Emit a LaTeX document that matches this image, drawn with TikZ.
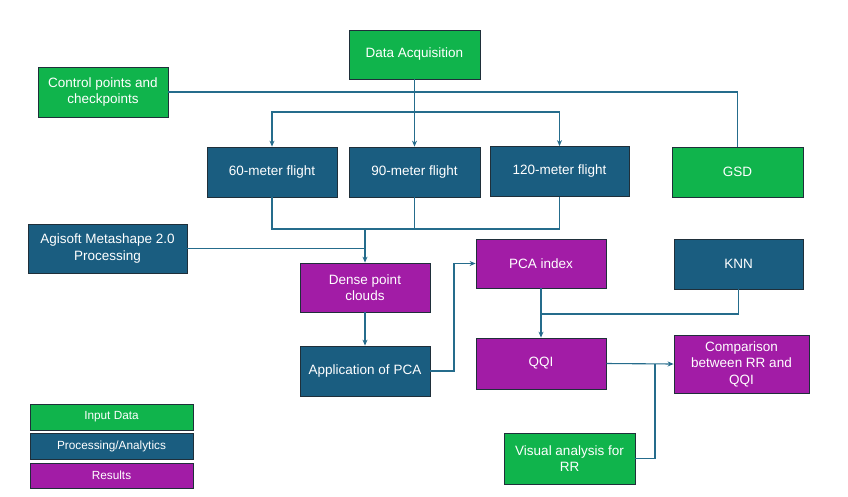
\documentclass[tikz,border=0pt]{standalone}
\usepackage{fontspec}
\setmainfont{Liberation Sans}
\usetikzlibrary{arrows.meta}
\definecolor{cgreen}{HTML}{10B44C}
\definecolor{cblue}{HTML}{1A5D80}
\definecolor{cpurple}{HTML}{A21CA6}
\definecolor{cline}{HTML}{256C8C}
\definecolor{cborder}{HTML}{1F2F3A}
\begin{document}
\begin{tikzpicture}[x=1pt,y=-1pt,
  box/.style={draw=cborder,line width=0.8pt,fill=#1,text=white,inner sep=0pt,align=center,
    font=\fontsize{13.5}{16.5}\selectfont},
  legbox/.style={box=#1,minimum width=163pt,font=\fontsize{11.8}{13}\selectfont},
  conn/.style={draw=cline,line width=1.1pt},
  arr/.style={conn,-{Stealth[length=6pt,width=5pt]}}]
\useasboundingbox[fill=white] (0,0) rectangle (848,496);
% nodes
\node[box=cgreen,minimum width=131pt,minimum height=49pt] (da) at (414.5,54.5) {Data Acquisition};
\node[box=cgreen,minimum width=130pt,minimum height=50pt] (cp) at (103,92) {Control points and\\checkpoints};
\node[box=cblue,minimum width=130pt,minimum height=50pt] (f60) at (272,172) {60-meter flight};
\node[box=cblue,minimum width=131pt,minimum height=50pt] (f90) at (414.5,172) {90-meter flight};
\node[box=cblue,minimum width=139pt,minimum height=50pt] (f120) at (559.5,171.5) {120-meter flight};
\node[box=cgreen,minimum width=131pt,minimum height=50pt] (gsd) at (737.5,172) {GSD};
\node[box=cblue,minimum width=159pt,minimum height=49pt] (ag) at (107.5,248.5) {Agisoft Metashape 2.0\\Processing};
\node[box=cpurple,minimum width=130pt,minimum height=49pt] (dpc) at (365,287.5) {Dense point\\clouds};
\node[box=cblue,minimum width=130pt,minimum height=50pt] (app) at (365,371) {Application of PCA};
\node[box=cpurple,minimum width=130pt,minimum height=49pt] (pca) at (541,263.5) {PCA index};
\node[box=cblue,minimum width=129pt,minimum height=50pt] (knn) at (738.5,264) {KNN};
\node[box=cpurple,minimum width=130pt,minimum height=51pt] (qqi) at (541,363.5) {QQI};
\node[box=cpurple,minimum width=135pt,minimum height=58pt] (cmp) at (741.5,364) {Comparison\\between RR and\\QQI};
\node[box=cgreen,minimum width=131pt,minimum height=51pt] (vis) at (569.5,458.5) {Visual analysis for\\RR};
% legend
\node[legbox=cgreen,minimum height=26pt] (l1) at (111.5,417) {Input Data};
\node[legbox=cblue,minimum height=26pt] (l2) at (111.5,446) {Processing/Analytics};
\node[legbox=cpurple,minimum height=25pt] (l3) at (111.5,475.5) {Results};
% connectors
\coordinate (split) at (414.5,112);
\coordinate (j1) at (365,229);
\coordinate (j2) at (541,314);
\coordinate (j3) at (655,363.5);
\coordinate (c1) at (454,371);
\draw[conn] (cp.east) -- (gsd.north |- cp.east) -- (gsd.north);
\draw[arr] (da.south) -- (f90.north);
\draw[arr] (split) -| (f60.north);
\draw[arr] (split) -| (f120.north);
\draw[conn] (f60.south) |- (j1) -| (f120.south);
\draw[conn] (f90.south) -- (f90.south |- j1);
\draw[arr] (j1) -- (dpc.north);
\draw[conn] (ag.east) -- (dpc.north |- ag.east);
\draw[arr] (dpc.south) -- (app.north);
\draw[arr] (app.east) -- (c1) |- (pca.west);
\draw[arr] (pca.south) -- (qqi.north);
\draw[conn] (knn.south) |- (j2);
\draw[arr] (qqi.east) -- (cmp.west);
\draw[conn] (vis.east) -| (j3);
\end{tikzpicture}
\end{document}
